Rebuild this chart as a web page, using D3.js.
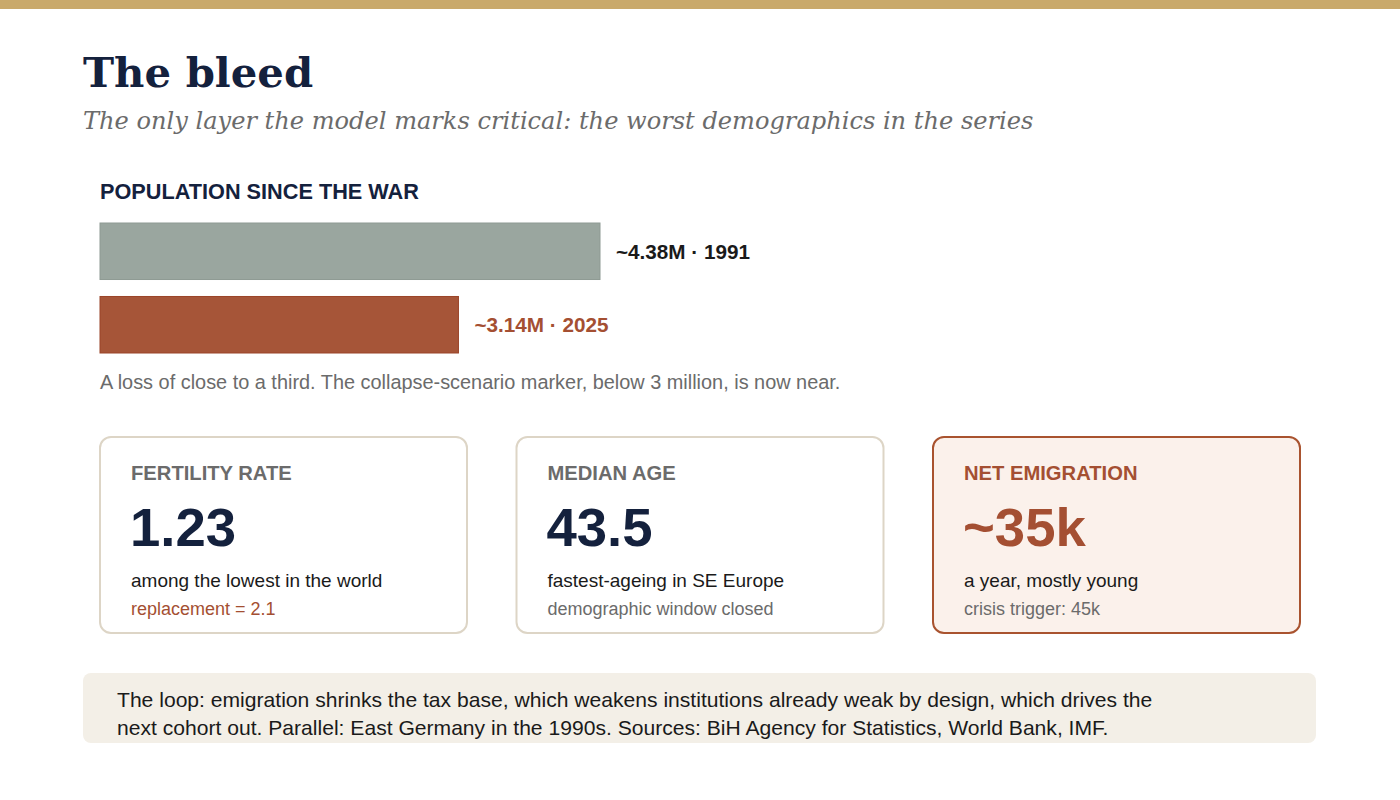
<!DOCTYPE html>
<html><head><meta charset="utf-8">
<script src="https://cdn.jsdelivr.net/npm/d3@7/dist/d3.min.js"></script>
<style>html,body{margin:0;padding:0;background:#fff;}svg{display:block;}</style>
</head><body>
<script>
const title = "The bleed";
const subtitle = "The only layer the model marks critical: the worst demographics in the series";
const sectionTitle = "POPULATION SINCE THE WAR";
const popYears = ["1991", "2025"];
const popValues = [4.38, 3.14];
const popLabels = ["~4.38M · 1991", "~3.14M · 2025"];
const popNote = "A loss of close to a third. The collapse-scenario marker, below 3 million, is now near.";
const cardLabels = ["FERTILITY RATE", "MEDIAN AGE", "NET EMIGRATION"];
const cardValues = ["1.23", "43.5", "~35k"];
const cardLine1 = ["among the lowest in the world", "fastest-ageing in SE Europe", "a year, mostly young"];
const cardLine2 = ["replacement = 2.1", "demographic window closed", "crisis trigger: 45k"];
const footerLines = ["The loop: emigration shrinks the tax base, which weakens institutions already weak by design, which drives the",
                     "next cohort out. Parallel: East Germany in the 1990s. Sources: BiH Agency for Statistics, World Bank, IMF."];

const W = 1400, H = 800;
const NAVY = "#14213d", RUST = "#a44f32", GRAY = "#6b6b6b", INK = "#1a1a1a";
const SANS = "'Liberation Sans', Arial, Helvetica, sans-serif";
const SERIF = "'DejaVu Serif', Georgia, serif";

const svg = d3.select("body").append("svg").attr("width", W).attr("height", H);
svg.append("rect").attr("x",0).attr("y",0).attr("width",W).attr("height",H).attr("fill","#fff");
svg.append("rect").attr("x",0).attr("y",0).attr("width",W).attr("height",9).attr("fill","#c9a96b");

svg.append("text").attr("x",83).attr("y",87).text(title)
  .attr("font-family",SERIF).attr("font-weight","bold").attr("font-size",41.8).attr("fill",NAVY);
svg.append("text").attr("x",83).attr("y",129).text(subtitle)
  .attr("font-family",SERIF).attr("font-style","italic").attr("font-size",24.1).attr("fill",GRAY);

svg.append("text").attr("x",100).attr("y",199).text(sectionTitle)
  .attr("font-family",SANS).attr("font-weight","bold").attr("font-size",21.7).attr("fill",NAVY);

// Bars
const x = d3.scaleLinear().domain([0, 4.38]).range([0, 500]);
const y = d3.scaleBand().domain(popYears).range([223, 353]).paddingInner(0.231).paddingOuter(0);
const barFill = ["#9aa69f", "#a65538"];
const barStroke = ["#8e9a93", "#9a4428"];
const labelFill = ["#1a1a1a", RUST];
const g = svg.append("g");
g.selectAll("rect.bar").data(popYears).join("rect").attr("class","bar")
  .attr("x", 100).attr("y", d => y(d)).attr("width", (d,i) => x(popValues[i])).attr("height", y.bandwidth())
  .attr("fill", (d,i) => barFill[i]).attr("stroke", (d,i) => barStroke[i]).attr("stroke-width",1);
g.selectAll("text.bl").data(popYears).join("text").attr("class","bl")
  .attr("x", (d,i) => 100 + x(popValues[i]) + 16).attr("y", d => y(d) + y.bandwidth()/2)
  .attr("dy","0.36em").text((d,i) => popLabels[i])
  .attr("font-family",SANS).attr("font-weight","bold").attr("font-size",20.7).attr("fill",(d,i)=>labelFill[i]);

svg.append("text").attr("x",100).attr("y",389).text(popNote)
  .attr("font-family",SANS).attr("font-size",19.9).attr("fill",GRAY);

// Cards
const cardX = d3.scaleBand().domain(d3.range(3)).range([100, 1300]).paddingInner(49.5/416.5).paddingOuter(0);
const cardFill = ["#fff", "#fff", "#fbf1eb"];
const cardStroke = ["#ddd5c6", "#ddd5c6", "#a9532f"];
const labelCol = [GRAY, GRAY, RUST];
const bigCol = [NAVY, NAVY, RUST];
const line2Col = [RUST, GRAY, GRAY];
const cards = svg.selectAll("g.card").data(d3.range(3)).join("g").attr("class","card")
  .attr("transform", d => `translate(${cardX(d)},437)`);
cards.append("rect").attr("x",0).attr("y",0).attr("width",cardX.bandwidth()).attr("height",196)
  .attr("rx",11).attr("ry",11).attr("fill",d=>cardFill[d]).attr("stroke",d=>cardStroke[d]).attr("stroke-width",2);
cards.append("text").attr("x",31).attr("y",43).text(d=>cardLabels[d])
  .attr("font-family",SANS).attr("font-weight","bold").attr("font-size",20.2).attr("fill",d=>labelCol[d]);
cards.append("text").attr("x",30).attr("y",109).text(d=>cardValues[d])
  .attr("font-family",SANS).attr("font-weight","bold").attr("font-size",54.5).attr("fill",d=>bigCol[d]);
cards.append("text").attr("x",31).attr("y",150).text(d=>cardLine1[d])
  .attr("font-family",SANS).attr("font-size",19).attr("fill",INK);
cards.append("text").attr("x",31).attr("y",178).text(d=>cardLine2[d])
  .attr("font-family",SANS).attr("font-size",18).attr("fill",d=>line2Col[d]);

// Footer
svg.append("rect").attr("x",83).attr("y",673).attr("width",1233).attr("height",70).attr("rx",8).attr("ry",8).attr("fill","#f3efe7");
svg.selectAll("text.foot").data(footerLines).join("text").attr("class","foot")
  .attr("x",117).attr("y",(d,i)=>707 + i*28).text(d=>d)
  .attr("font-family",SANS).attr("font-size",21.1).attr("fill",INK);
</script>
</body></html>
